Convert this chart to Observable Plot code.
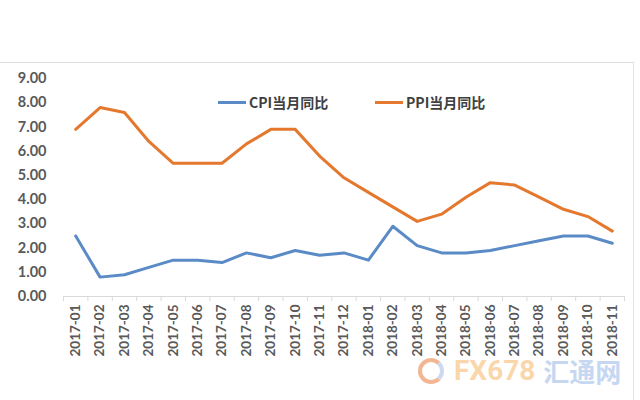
<!DOCTYPE html>
<html>
<head>
<meta charset="utf-8">
<script src="https://cdn.jsdelivr.net/npm/d3@7"></script>
<script src="https://cdn.jsdelivr.net/npm/@observablehq/plot@0.6"></script>
<style>
  html, body { margin: 0; padding: 0; background: #fff; }
  #wrap { position: relative; width: 640px; height: 400px; overflow: hidden; font-family: "Lato", "Noto Sans CJK SC", sans-serif; }
  #frame { position: absolute; left: -2px; top: 62px; width: 636px; height: 360px; border-top: 1.5px solid #dcdcdc; border-right: 1.5px solid #e4e4e4; box-sizing: border-box; }
  #chart svg { display: block; }
  #chart g[aria-label="y-axis tick label"] text { font-weight: bold; fill: #595959; font-size: 14.5px; }
  #chart g[aria-label="x-axis tick label"] text { font-weight: bold; fill: #595959; font-size: 13.5px; }
  .legend { position: absolute; top: 92px; display: flex; align-items: center; font-family: "Noto Sans CJK SC", sans-serif; font-size: 14px; color: #404040; font-weight: bold; }
  .legend .sw { width: 28px; height: 3px; margin-right: 3px; }
  .wm { position: absolute; left: 418px; top: 357px; display: flex; align-items: center; opacity: 0.5; pointer-events: none; font-family: "Roboto", sans-serif; font-weight: bold; font-size: 28px; line-height: 28px; }
  .wm .logo { width: 18px; height: 18px; border-radius: 50%; border: 4px solid #e8702a; border-right-color: #9ab4e0; margin-right: 10px; }
</style>
</head>
<body>
<div id="wrap">
  <div id="frame"></div>
  <div id="chart"></div>
  <div class="legend" style="left:218px"><div class="sw" style="background:#5b8bc6"></div>CPI当月同比</div>
  <div class="legend" style="left:375px"><div class="sw" style="background:#e4782e"></div>PPI当月同比</div>
  <div class="wm"><div class="logo"></div><span style="color:#f7b15a">FX678</span><span style="color:#8fb0e6;margin-left:8px;font-family:'Noto Sans CJK SC';font-size:26px">汇通网</span></div>
</div>
<script>
const months = ["2017-01","2017-02","2017-03","2017-04","2017-05","2017-06","2017-07","2017-08","2017-09","2017-10","2017-11","2017-12",
                "2018-01","2018-02","2018-03","2018-04","2018-05","2018-06","2018-07","2018-08","2018-09","2018-10","2018-11"];
const cpi = [2.5,0.8,0.9,1.2,1.5,1.5,1.4,1.8,1.6,1.9,1.7,1.8,1.5,2.9,2.1,1.8,1.8,1.9,2.1,2.3,2.5,2.5,2.2];
const ppi = [6.9,7.8,7.6,6.4,5.5,5.5,5.5,6.3,6.9,6.9,5.8,4.9,4.3,3.7,3.1,3.4,4.1,4.7,4.6,4.1,3.6,3.3,2.7];
const yTicks = [0,1,2,3,4,5,6,7,8,9];

const rows = months.map((m, i) => ({pos: i + 0.5, month: m, cpi: cpi[i], ppi: ppi[i]}));
const centers = rows.map(d => d.pos);
const bounds = d3.range(0, months.length + 1);

const chart = Plot.plot({
  width: 640,
  height: 400,
  marginTop: 78,
  marginBottom: 104,
  marginLeft: 63,
  marginRight: 16,
  style: {fontFamily: "Lato, 'Noto Sans', sans-serif", background: "transparent"},
  x: {type: "linear", domain: [0, months.length], axis: null, label: null},
  y: {domain: [0, 9], axis: null, label: null},
  marks: [
    Plot.axisY({ticks: yTicks, tickSize: 0, tickPadding: 17, label: null, tickFormat: d => d.toFixed(2)}),
    Plot.ruleY([0], {stroke: "#d9d9d9", strokeWidth: 1}),
    Plot.axisX({ticks: bounds, tickSize: 5, label: null, tickFormat: () => "", stroke: "#d9d9d9"}),
    Plot.axisX({ticks: centers, tickSize: 0, tickPadding: 8, tickRotate: -90, label: null, tickFormat: d => months[Math.round(d - 0.5)]}),
    Plot.line(rows, {x: "pos", y: "ppi", stroke: "#e4782e", strokeWidth: 3}),
    Plot.line(rows, {x: "pos", y: "cpi", stroke: "#5b8bc6", strokeWidth: 3})
  ]
});
document.getElementById("chart").appendChild(chart);
</script>
</body>
</html>
